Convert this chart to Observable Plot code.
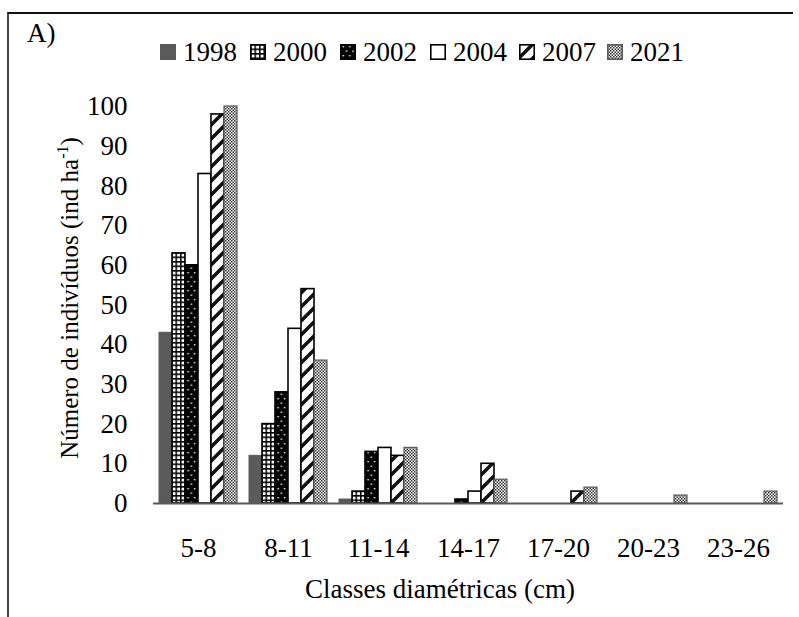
<!DOCTYPE html>
<html>
<head>
<meta charset="utf-8">
<script src="https://cdn.jsdelivr.net/npm/d3@7"></script>
<script src="https://cdn.jsdelivr.net/npm/@observablehq/plot@0.6"></script>
<style>
  body { margin: 0; background: #fff; }
  #wrap { position: relative; width: 799px; height: 617px; overflow: hidden; font-family: "Liberation Serif", "Times New Roman", serif; color: #000; }
  #frame { position: absolute; left: 7px; top: 12px; width: 786px; height: 620px; border-top: 2px solid #111; border-left: 2px solid #444; box-sizing: border-box; }
  #tag { position: absolute; left: 27px; top: 20px; font-size: 27px; line-height: 26px; }
  #legend { position: absolute; top: 39px; left: 0; height: 26px; }
  .item { position: absolute; top: 0; display: flex; align-items: center; font-size: 27px; line-height: 26px; white-space: nowrap; }
  .item svg { margin-right: 7px; }
  #chart { position: absolute; left: 0; top: 0; }
</style>
</head>
<body>
<svg width="0" height="0" style="position:absolute">
  <defs>
    <pattern id="p2000" patternUnits="userSpaceOnUse" width="4.5" height="4.5">
      <rect width="4.5" height="4.5" fill="#fff"/>
      <path d="M0,0.75H4.5M0.75,0V4.5" stroke="#000" stroke-width="1.5"/>
    </pattern>
    <pattern id="p2002" patternUnits="userSpaceOnUse" width="6.6" height="9">
      <rect width="6.6" height="9" fill="#000"/>
      <rect x="2.6" y="2" width="1.4" height="1.4" fill="#fff"/>
      <rect x="5.9" y="6.5" width="0.7" height="1.4" fill="#fff"/>
      <rect x="0" y="6.5" width="0.7" height="1.4" fill="#fff"/>
    </pattern>
    <pattern id="p2007" patternUnits="userSpaceOnUse" width="14" height="14">
      <rect width="14" height="14" fill="#fff"/>
      <path d="M0,14L14,0M-3,3L3,-3M11,17L17,11" stroke="#111" stroke-width="3.6"/>
    </pattern>
    <pattern id="p2021" patternUnits="userSpaceOnUse" width="3" height="3">
      <rect width="3" height="3" fill="#fff"/>
      <rect width="1.5" height="1.5" fill="#333"/>
      <rect x="1.5" y="1.5" width="1.5" height="1.5" fill="#333"/>
    </pattern>
  </defs>
</svg>
<div id="wrap">
  <div id="frame"></div>
  <div id="tag">A)</div>
  <div id="legend"></div>
  <div id="chart"></div>
</div>
<script>
// ---- data ----
const classes = ["5-8", "8-11", "11-14", "14-17", "17-20", "20-23", "23-26"];
const years = ["1998", "2000", "2002", "2004", "2007", "2021"];
const v1998 = [43, 12, 1, 0, 0, 0, 0];
const v2000 = [63, 20, 3, 0, 0, 0, 0];
const v2002 = [60, 28, 13, 1, 0, 0, 0];
const v2004 = [83, 44, 14, 3, 0, 0, 0];
const v2007 = [98, 54, 12, 10, 3, 0, 0];
const v2021 = [100, 36, 14, 6, 4, 2, 3];
const yTicks = [0, 10, 20, 30, 40, 50, 60, 70, 80, 90, 100];
const xTitle = "Classes diamétricas (cm)";
const yTitle = "Número de indivíduos (ind ha";

const seriesValues = { "1998": v1998, "2000": v2000, "2002": v2002, "2004": v2004, "2007": v2007, "2021": v2021 };
const fills = { "1998": "#5a5a5a", "2000": "url(#p2000)", "2002": "url(#p2002)", "2004": "#ffffff", "2007": "url(#p2007)", "2021": "url(#p2021)" };
const strokes = { "1998": "#5a5a5a", "2000": "#000", "2002": "#000", "2004": "#000", "2007": "#000", "2021": "#5a5a5a" };
const strokeWidths = { "1998": 1, "2000": 1.6, "2002": 1.6, "2004": 1.6, "2007": 1.6, "2021": 1.2 };

const table = years.flatMap(yr => classes.map((c, i) => ({ classe: c, ano: yr, n: seriesValues[yr][i] })));

const barMarks = years.map(yr => Plot.barY(table.filter(d => d.ano === yr && d.n > 0), {
  fx: "classe", x: "ano", y: "n",
  fill: fills[yr], stroke: strokes[yr], strokeWidth: strokeWidths[yr], inset: 0
}));

const chart = Plot.plot({
  width: 799,
  height: 617,
  marginLeft: 153,
  marginRight: 16,
  marginTop: 106,
  marginBottom: 114,
  style: { fontFamily: "'Liberation Serif', 'Times New Roman', serif", fontSize: "27px", background: "transparent", color: "#000", overflow: "visible" },
  fx: { domain: classes, padding: 0, axis: "bottom", label: null, tickSize: 0, tickPadding: 34 },
  x: { domain: years, axis: null, paddingInner: 0, paddingOuter: 0.42 },
  y: { domain: [0, 100], ticks: yTicks, tickSize: 0, tickPadding: 26, label: null },
  marks: [
    ...barMarks,
    Plot.ruleY([0], { stroke: "#595959", strokeWidth: 2 })
  ]
});
document.getElementById("chart").appendChild(chart);

const svg = d3.select(chart);
svg.append("text")
  .attr("x", 440).attr("y", 598)
  .attr("text-anchor", "middle")
  .attr("font-size", 27)
  .attr("fill", "#000")
  .text(xTitle);

const yt = svg.append("text")
  .attr("transform", "translate(78,298) rotate(-90)")
  .attr("text-anchor", "middle")
  .attr("font-size", 25)
  .attr("fill", "#000");
yt.append("tspan").text(yTitle);
yt.append("tspan").attr("font-size", 16).attr("dy", -10).text("-1");
yt.append("tspan").attr("dy", 10).text(")");

// ---- legend ----
const legend = document.getElementById("legend");
const legendLeft = [160, 250, 340, 430, 519, 607];
years.forEach((yr, i) => {
  const item = document.createElement("div");
  item.className = "item";
  item.style.left = legendLeft[i] + "px";
  item.innerHTML = `<svg width="16" height="16"><rect x="0.8" y="0.8" width="14.4" height="14.4" fill="${fills[yr]}" stroke="${strokes[yr]}" stroke-width="1.6"/></svg><span>${yr}</span>`;
  legend.appendChild(item);
});
</script>
</body>
</html>
